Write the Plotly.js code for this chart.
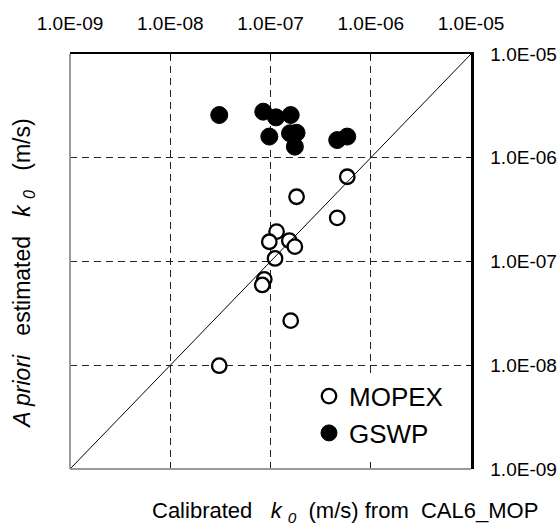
<!DOCTYPE html>
<html>
<head>
<meta charset="utf-8">
<script src="https://cdn.plot.ly/plotly-3.0.1.min.js"></script>
<style>html,body{margin:0;padding:0;background:#fff;}#chart{width:560px;height:529px;}</style>
</head>
<body>
<div id="chart"></div>
<script>
// ---- data ----
const mopexCalibrated = [5.83e-7, 1.82e-7, 4.63e-7, 1.15e-7, 9.73e-8, 1.54e-7, 1.75e-7, 1.11e-7, 8.67e-8, 8.28e-8, 1.59e-7, 3.08e-8];
const mopexApriori    = [6.56e-7, 4.21e-7, 2.63e-7, 1.94e-7, 1.55e-7, 1.59e-7, 1.39e-7, 1.07e-7, 6.73e-8, 5.94e-8, 2.69e-8, 9.9e-9];
const gswpCalibrated  = [3.08e-8, 8.47e-8, 1.135e-7, 1.59e-7, 9.73e-8, 1.565e-7, 1.82e-7, 1.75e-7, 4.63e-7, 5.83e-7];
const gswpApriori     = [2.58e-6, 2.78e-6, 2.45e-6, 2.58e-6, 1.60e-6, 1.72e-6, 1.74e-6, 1.28e-6, 1.48e-6, 1.60e-6];
const oneToOne        = [1e-9, 1e-5];
const tickValues      = [1e-9, 1e-8, 1e-7, 1e-6, 1e-5];
const tickLabels      = ['1.0E-09', '1.0E-08', '1.0E-07', '1.0E-06', '1.0E-05'];
const seriesNames     = ['MOPEX', 'GSWP'];

const FONT = 'Liberation Sans, Arial, sans-serif';

const traces = [
  {
    x: mopexCalibrated, y: mopexApriori, name: seriesNames[0],
    type: 'scatter', mode: 'markers',
    marker: {symbol: 'circle', size: 14.5, color: '#ffffff', line: {color: '#000000', width: 2.3}},
    hoverinfo: 'x+y'
  },
  {
    x: gswpCalibrated, y: gswpApriori, name: seriesNames[1],
    type: 'scatter', mode: 'markers',
    marker: {symbol: 'circle', size: 17, color: '#000000', line: {color: '#000000', width: 1}},
    hoverinfo: 'x+y'
  },
  {
    x: oneToOne, y: oneToOne, type: 'scatter', mode: 'lines', showlegend: false,
    line: {color: '#000000', width: 1}, hoverinfo: 'skip'
  }
];

const axisBase = {
  type: 'log', range: [-9, -5], tickvals: tickValues, ticktext: tickLabels,
  ticks: 'inside', ticklen: 4, tickcolor: '#000000', tickwidth: 1,
  showgrid: true, gridcolor: '#222222', gridwidth: 1, griddash: '7px,5px',
  zeroline: false, showline: true, linecolor: '#000000', mirror: false,
  tickfont: {family: FONT, size: 19, color: '#000000'}, fixedrange: true
};

const layout = {
  width: 560, height: 529,
  margin: {l: 70, r: 89, t: 54, b: 60, pad: 0},
  paper_bgcolor: '#ffffff', plot_bgcolor: '#ffffff',
  font: {family: FONT, size: 19, color: '#000000'},
  showlegend: true,
  legend: {
    x: 0.596, y: 0.232, xanchor: 'left', yanchor: 'top',
    bgcolor: '#ffffff', borderwidth: 0,
    font: {family: FONT, size: 26, color: '#000000'},
    tracegroupgap: 0, itemwidth: 30
  },
  xaxis: Object.assign({}, axisBase, {side: 'top', linewidth: 2, ticklabelstandoff: 14}),
  yaxis: Object.assign({}, axisBase, {side: 'right', linewidth: 2.5, ticklabelstandoff: 13}),
  shapes: [
    {type: 'line', xref: 'paper', yref: 'paper', x0: 0, x1: 0, y0: 0, y1: 1,
     line: {color: '#9a9a9a', width: 2}, layer: 'above'},
    {type: 'line', xref: 'paper', yref: 'paper', x0: 0, x1: 1, y0: 0, y1: 0,
     line: {color: '#9a9a9a', width: 2}, layer: 'above'}
  ],
  annotations: [
    {
      text: 'Calibrated   <i>k</i> <sub><i>0</i></sub>  (m/s) from  CAL6_MOP',
      xref: 'paper', yref: 'paper', x: 0.2, y: -0.1036,
      xanchor: 'left', yanchor: 'middle', showarrow: false,
      font: {family: FONT, size: 22, color: '#000000'}
    },
    {
      text: '<i>A priori</i>   estimated   <i>k</i> <sub><i>0</i></sub>   (m/s)',
      xref: 'paper', yref: 'paper', x: -0.115, y: 0.47,
      xanchor: 'center', yanchor: 'middle', textangle: -90, showarrow: false,
      font: {family: FONT, size: 23, color: '#000000'}
    }
  ]
};

Plotly.newPlot('chart', traces, layout, {displayModeBar: false, staticPlot: true});
</script>
</body>
</html>
